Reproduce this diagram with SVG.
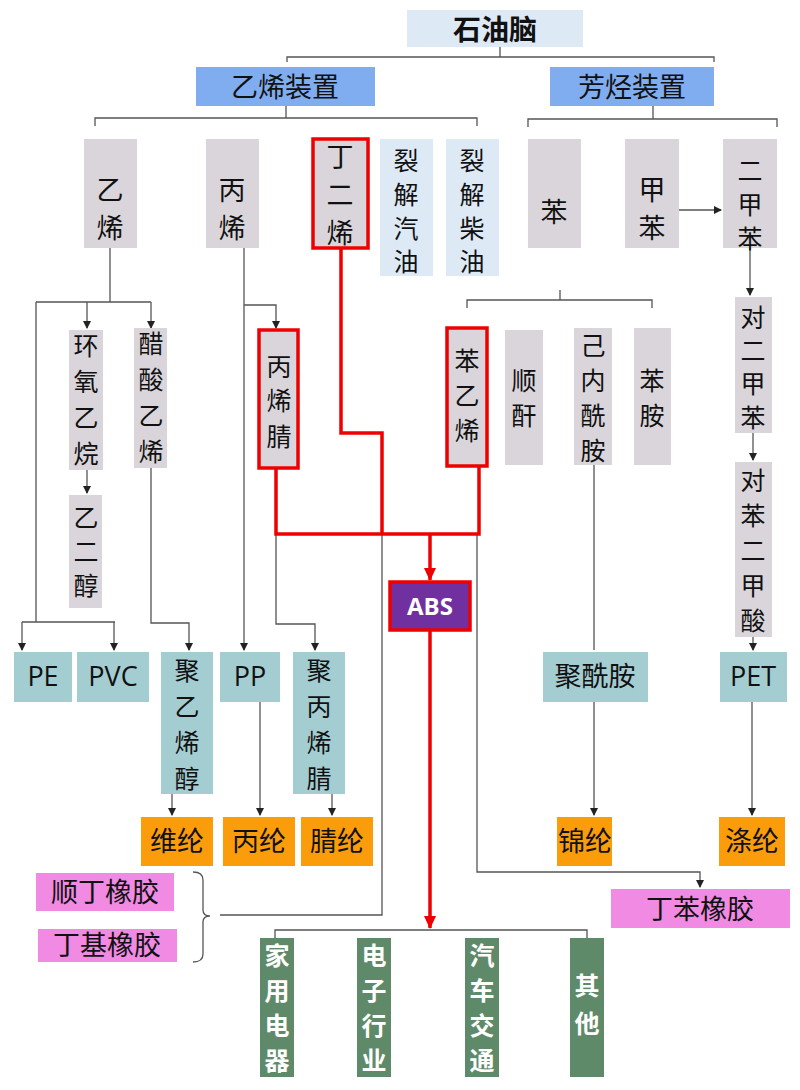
<svg xmlns="http://www.w3.org/2000/svg" width="800" height="1090" viewBox="0 0 800 1090">
<defs>
<marker id="a" markerWidth="8" markerHeight="8" refX="7" refY="4" orient="auto" markerUnits="userSpaceOnUse"><path d="M0,0 L8,4 L0,8 z" fill="#222"/></marker>
<marker id="r" markerWidth="14" markerHeight="14" refX="12" refY="7" orient="auto" markerUnits="userSpaceOnUse"><path d="M0,1 L13,7 L0,13 z" fill="#e00"/></marker>
<style>
text{font-family:"Noto Sans CJK SC","Liberation Sans",sans-serif;fill:#111;text-anchor:middle}
.t{font-size:27px}
.v{font-size:25px}
.g{fill:#d9d5da}.lb{fill:#dde9f5}.bl{fill:#80acf0}.tl{fill:#a3cdd1}.or{fill:#fb9d0a}.pk{fill:#f08ae2}.gr{fill:#5f8a69}
.hl{stroke:#e00;stroke-width:3.5}
.w{fill:#fff;font-weight:bold}
.ln{fill:none;stroke:#555;stroke-width:1.3}
.red{fill:none;stroke:#e00;stroke-width:3.5}
</style>
</defs>
<rect width="800" height="1090" fill="#fff"/>
<g id="connectors">
<path class="ln" d="M500,47V57M287,62V57H714V62"/>
<path class="ln" d="M286,106V118M95,126V118H477V126"/>
<path class="ln" d="M653,106V119M528,127V119H777V127"/>
<path class="ln" d="M560,290V300M467,308V300H652V308"/>
<path class="ln" d="M679,210H721" marker-end="url(#a)"/>
<path class="ln" d="M110,248V302M36,302H151M36,302V622M22,622H115"/>
<path class="ln" d="M87,302V328" marker-end="url(#a)"/>
<path class="ln" d="M151,302V328" marker-end="url(#a)"/>
<path class="ln" d="M87,470V493" marker-end="url(#a)"/>
<path class="ln" d="M22,622V650" marker-end="url(#a)"/>
<path class="ln" d="M114,622V650" marker-end="url(#a)"/>
<path class="ln" d="M151,468V623H189V650" marker-end="url(#a)"/>
<path class="ln" d="M244,248V650" marker-end="url(#a)"/>
<path class="ln" d="M244,305H276V328" marker-end="url(#a)"/>
<path class="ln" d="M276,534V624H315V650" marker-end="url(#a)"/>
<path class="ln" d="M382,534V915H220"/>
<path class="ln" d="M477,534V872H700V887" marker-end="url(#a)"/>
<path class="ln" d="M594,465V650M594,702V815" marker-end="url(#a)"/>
<path class="ln" d="M750,248V295" marker-end="url(#a)"/>
<path class="ln" d="M753,433V460" marker-end="url(#a)"/>
<path class="ln" d="M753,637V650" marker-end="url(#a)"/>
<path class="ln" d="M752,702V815" marker-end="url(#a)"/>
<path class="ln" d="M172,794V815" marker-end="url(#a)"/>
<path class="ln" d="M260,702V815" marker-end="url(#a)"/>
<path class="ln" d="M332,794V815" marker-end="url(#a)"/>
<path class="ln" d="M193,872Q203,872 203,880V910Q203,916 210,916Q203,916 203,922V954Q203,962 193,962"/>
<path class="ln" d="M275,938V930H587V938"/>
<path class="red" d="M341,248V433H382V534M276,468V534H479V466"/>
<path class="red" d="M430,534V580" marker-end="url(#r)"/>
<path class="red" d="M430,630V928" marker-end="url(#r)"/>
</g>
<g id="n-top"><rect class="lb" x="407" y="10" width="176" height="37"/><text x="495" y="40" style="font-size:28px;font-weight:bold">石油脑</text></g>
<g id="n-yx"><rect class="bl" x="196" y="67" width="179" height="39"/><text class="t" x="285" y="97">乙烯装置</text></g>
<g id="n-fx"><rect class="bl" x="550" y="67" width="164" height="39"/><text class="t" x="632" y="97">芳烃装置</text></g>
<g id="n-yixi"><rect class="g" x="84" y="139" width="53" height="109"/><text class="t"><tspan x="110" y="200">乙</tspan><tspan x="110" y="238">烯</tspan></text></g>
<g id="n-bingxi"><rect class="g" x="206" y="139" width="53" height="109"/><text class="t"><tspan x="232" y="200">丙</tspan><tspan x="232" y="238">烯</tspan></text></g>
<g id="n-dingerxi"><rect class="g hl" x="313" y="139" width="55" height="109"/><text class="t"><tspan x="340" y="167">丁</tspan><tspan x="340" y="205">二</tspan><tspan x="340" y="243">烯</tspan></text></g>
<g id="n-qy"><rect class="lb" x="380" y="139" width="53" height="137"/><text class="v"><tspan x="406" y="170">裂</tspan><tspan x="406" y="204">解</tspan><tspan x="406" y="238">汽</tspan><tspan x="406" y="271">油</tspan></text></g>
<g id="n-cy"><rect class="lb" x="446" y="139" width="53" height="137"/><text class="v"><tspan x="472" y="170">裂</tspan><tspan x="472" y="204">解</tspan><tspan x="472" y="238">柴</tspan><tspan x="472" y="271">油</tspan></text></g>
<g id="n-ben"><rect class="g" x="528" y="139" width="53" height="109"/><text class="t" x="554" y="222">苯</text></g>
<g id="n-jiaben"><rect class="g" x="625" y="139" width="54" height="109"/><text class="t"><tspan x="652" y="200">甲</tspan><tspan x="652" y="238">苯</tspan></text></g>
<g id="n-erjiaben"><rect class="g" x="723" y="139" width="54" height="109"/><text class="v"><tspan x="750" y="180">二</tspan><tspan x="750" y="214">甲</tspan><tspan x="750" y="248">苯</tspan></text></g>
<g id="n-hy"><rect class="g" x="69" y="330" width="34" height="140"/><text class="v"><tspan x="86" y="355">环</tspan><tspan x="86" y="391">氧</tspan><tspan x="86" y="427">乙</tspan><tspan x="86" y="463">烷</tspan></text></g>
<g id="n-cs"><rect class="g" x="134" y="328" width="33" height="140"/><text class="v"><tspan x="151" y="353">醋</tspan><tspan x="151" y="389">酸</tspan><tspan x="151" y="425">乙</tspan><tspan x="151" y="461">烯</tspan></text></g>
<g id="n-yec"><rect class="g" x="69" y="495" width="33" height="113"/><text class="v"><tspan x="86" y="527">乙</tspan><tspan x="86" y="561">二</tspan><tspan x="86" y="595">醇</tspan></text></g>
<g id="n-bxj"><rect class="g hl" x="259" y="330" width="39" height="138"/><text class="v"><tspan x="279" y="376">丙</tspan><tspan x="279" y="410">烯</tspan><tspan x="279" y="446">腈</tspan></text></g>
<g id="n-byx"><rect class="g hl" x="447" y="328" width="40" height="138"/><text class="v"><tspan x="467" y="370">苯</tspan><tspan x="467" y="405">乙</tspan><tspan x="467" y="440">烯</tspan></text></g>
<g id="n-sg"><rect class="g" x="505" y="330" width="38" height="135"/><text class="v"><tspan x="524" y="390">顺</tspan><tspan x="524" y="425">酐</tspan></text></g>
<g id="n-jnxa"><rect class="g" x="574" y="328" width="38" height="137"/><text class="v"><tspan x="593" y="355">己</tspan><tspan x="593" y="390">内</tspan><tspan x="593" y="425">酰</tspan><tspan x="593" y="460">胺</tspan></text></g>
<g id="n-ba"><rect class="g" x="634" y="328" width="37" height="137"/><text class="v"><tspan x="652" y="390">苯</tspan><tspan x="652" y="425">胺</tspan></text></g>
<g id="n-dejb"><rect class="g" x="735" y="297" width="37" height="136"/><text class="v"><tspan x="753" y="327">对</tspan><tspan x="753" y="360">二</tspan><tspan x="753" y="393">甲</tspan><tspan x="753" y="427">苯</tspan></text></g>
<g id="n-dbejs"><rect class="g" x="735" y="462" width="37" height="175"/><text class="v"><tspan x="753" y="490">对</tspan><tspan x="753" y="525">苯</tspan><tspan x="753" y="560">二</tspan><tspan x="753" y="595">甲</tspan><tspan x="753" y="630">酸</tspan></text></g>
<g id="n-abs"><rect x="390" y="582" width="80" height="48" fill="#7030a0" class="hl"/><text class="w" x="430" y="615" style="font-size:24px;font-family:'Open Sans','Liberation Sans',sans-serif">ABS</text></g>
<g id="n-pe"><rect class="tl" x="14" y="652" width="58" height="50"/><text class="t" x="43" y="686" style="font-family:'Open Sans','Liberation Sans',sans-serif">PE</text></g>
<g id="n-pvc"><rect class="tl" x="77" y="652" width="72" height="50"/><text class="t" x="113" y="686" style="font-family:'Open Sans','Liberation Sans',sans-serif">PVC</text></g>
<g id="n-pva"><rect class="tl" x="161" y="652" width="52" height="142"/><text class="v"><tspan x="187" y="680">聚</tspan><tspan x="187" y="716">乙</tspan><tspan x="187" y="752">烯</tspan><tspan x="187" y="788">醇</tspan></text></g>
<g id="n-pp"><rect class="tl" x="220" y="652" width="60" height="50"/><text class="t" x="250" y="686" style="font-family:'Open Sans','Liberation Sans',sans-serif">PP</text></g>
<g id="n-pan"><rect class="tl" x="293" y="652" width="52" height="142"/><text class="v"><tspan x="319" y="680">聚</tspan><tspan x="319" y="716">丙</tspan><tspan x="319" y="752">烯</tspan><tspan x="319" y="788">腈</tspan></text></g>
<g id="n-pa"><rect class="tl" x="543" y="652" width="105" height="50"/><text class="t" x="595" y="686">聚酰胺</text></g>
<g id="n-pet"><rect class="tl" x="720" y="652" width="67" height="50"/><text class="t" x="753" y="686" style="font-family:'Open Sans','Liberation Sans',sans-serif">PET</text></g>
<g id="n-wl"><rect class="or" x="141" y="817" width="72" height="49"/><text class="t" x="177" y="851">维纶</text></g>
<g id="n-bl"><rect class="or" x="223" y="817" width="72" height="49"/><text class="t" x="259" y="851">丙纶</text></g>
<g id="n-jl"><rect class="or" x="301" y="817" width="72" height="49"/><text class="t" x="337" y="851">腈纶</text></g>
<g id="n-jinl"><rect class="or" x="557" y="817" width="55" height="49"/><text class="t" x="585" y="851">锦纶</text></g>
<g id="n-dl"><rect class="or" x="719" y="817" width="66" height="49"/><text class="t" x="752" y="851">涤纶</text></g>
<g id="n-sdxj"><rect class="pk" x="36" y="873" width="138" height="38"/><text class="t" x="105" y="902">顺丁橡胶</text></g>
<g id="n-djxj"><rect class="pk" x="38" y="929" width="139" height="33"/><text class="t" x="107" y="955">丁基橡胶</text></g>
<g id="n-dbxj"><rect class="pk" x="611" y="889" width="179" height="39"/><text class="t" x="700" y="919">丁苯橡胶</text></g>
<g id="n-jydq"><rect class="gr" x="260" y="938" width="34" height="139"/><text class="v w"><tspan x="277" y="965">家</tspan><tspan x="277" y="1000">用</tspan><tspan x="277" y="1035">电</tspan><tspan x="277" y="1070">器</tspan></text></g>
<g id="n-dzhy"><rect class="gr" x="357" y="938" width="34" height="139"/><text class="v w"><tspan x="374" y="965">电</tspan><tspan x="374" y="1000">子</tspan><tspan x="374" y="1035">行</tspan><tspan x="374" y="1070">业</tspan></text></g>
<g id="n-qcjt"><rect class="gr" x="465" y="938" width="34" height="139"/><text class="v w"><tspan x="482" y="965">汽</tspan><tspan x="482" y="1000">车</tspan><tspan x="482" y="1035">交</tspan><tspan x="482" y="1070">通</tspan></text></g>
<g id="n-qt"><rect class="gr" x="570" y="938" width="34" height="139"/><text class="v w"><tspan x="587" y="995">其</tspan><tspan x="587" y="1033">他</tspan></text></g>
</svg>
